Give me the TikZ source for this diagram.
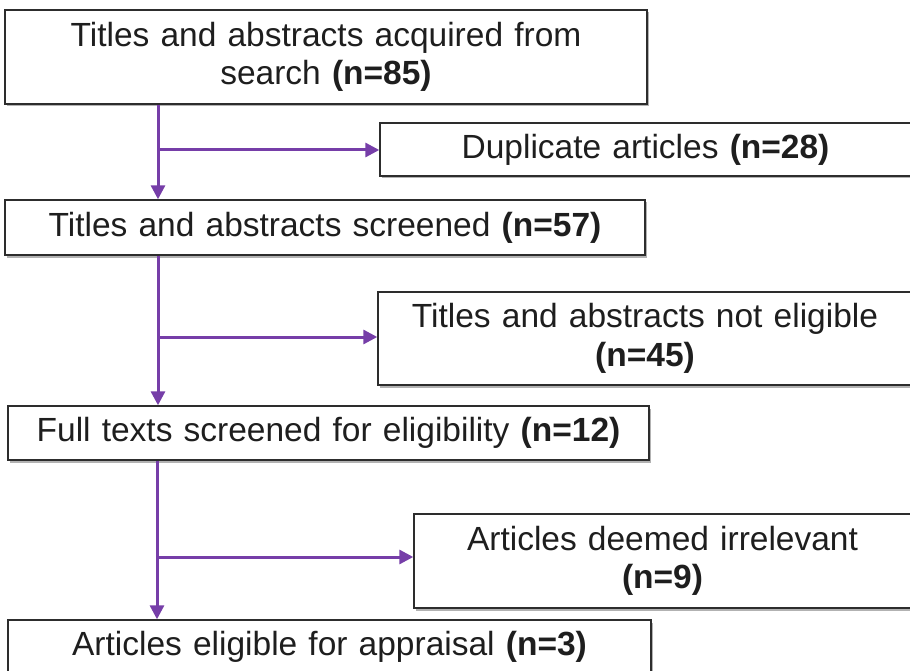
\documentclass[tikz,border=0pt]{standalone}
\usepackage{fontspec}
\setmainfont{Liberation Sans}
\usetikzlibrary{arrows.meta,shadows}
\definecolor{flowpurple}{RGB}{118,62,168}
\definecolor{boxline}{RGB}{45,45,45}
\definecolor{txt}{RGB}{30,30,30}
\tikzset{
  box/.style={draw=boxline, line width=1.4pt, fill=white, inner sep=0pt, align=center,
    text=txt, font=\fontsize{33.5}{38.5}\selectfont,
    drop shadow={shadow xshift=1.5pt, shadow yshift=-2.5pt, opacity=0.3, fill=black}},
  flow/.style={draw=flowpurple, line width=3pt, -{Triangle[length=14pt,width=14pt]}}
}
\begin{document}
\begin{tikzpicture}[x=1pt,y=-1pt]
\useasboundingbox (0,0) rectangle (910,671);
\node[box, minimum width=642pt, minimum height=94pt, text width=620pt] (b1) at (326,57)
  {Titles and abstracts acquired from\\search \textbf{(n=85)}};
\node[box, minimum width=531pt, minimum height=53pt, text width=510pt] (b2) at (645.5,149.5)
  {Duplicate articles \textbf{(n=28)}};
\node[box, minimum width=640pt, minimum height=55pt, text width=620pt] (b3) at (325,227.5)
  {Titles and abstracts screened \textbf{(n=57)}};
\node[box, minimum width=534pt, minimum height=93pt, text width=514pt] (b4) at (645,338.5)
  {Titles and abstracts not eligible\\\textbf{(n=45)}};
\node[box, minimum width=641pt, minimum height=54pt, text width=620pt] (b5) at (328.5,433)
  {Full texts screened for eligibility \textbf{(n=12)}};
\node[box, minimum width=497pt, minimum height=94pt, text width=477pt] (b6) at (662.5,561)
  {Articles deemed irrelevant\\\textbf{(n=9)}};
\node[box, minimum width=643pt, minimum height=54pt, text width=620pt] (b7) at (329.5,647)
  {Articles eligible for appraisal \textbf{(n=3)}};

\coordinate (j1) at (158,150);
\coordinate (j2) at (158,337);
\coordinate (j3) at (157,557);

\draw[flow] (b1.south -| j1) -- (b3.north -| j1);
\draw[flow] (j1) -- (b2.west |- j1);
\draw[flow] (b3.south -| j2) -- (b5.north -| j2);
\draw[flow] (j2) -- (b4.west |- j2);
\draw[flow] (b5.south -| j3) -- (b7.north -| j3);
\draw[flow] (j3) -- (b6.west |- j3);
\end{tikzpicture}
\end{document}
